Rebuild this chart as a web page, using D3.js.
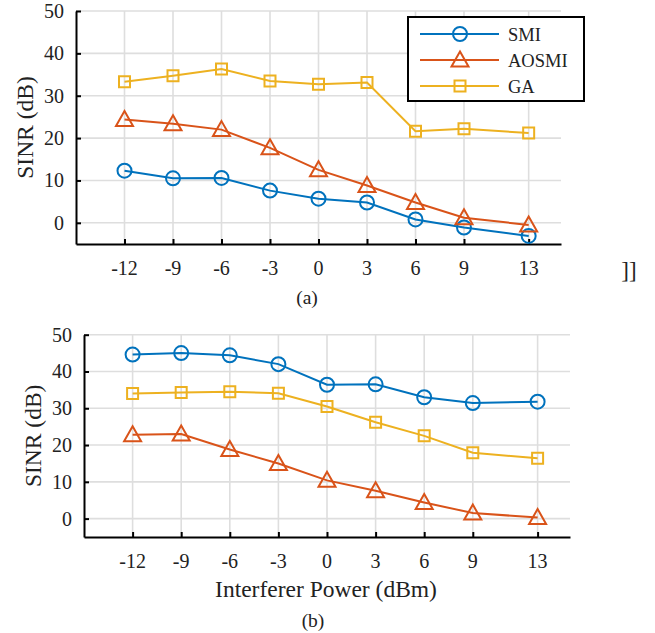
<!DOCTYPE html>
<html>
<head>
<meta charset="utf-8">
<script src="https://cdn.jsdelivr.net/npm/d3@7"></script>
<style>
  body { margin: 0; background: #fff; }
  svg text { font-family: "Liberation Serif", "Times New Roman", serif; fill: #222; }
</style>
</head>
<body>
<div class="container"></div>
<script>
// x values (interferer power, dBm) and tick labels
const powers = [-12, -9, -6, -3, 0, 3, 6, 9, 13];
const yTicks = [0, 10, 20, 30, 40, 50];
const seriesNames = ['SMI', 'AOSMI', 'GA'];

// panel (a)
const smiA   = [12.3, 10.5, 10.6, 7.6, 5.7, 4.8, 0.8, -1.1, -3.1];
const aosmiA = [24.4, 23.4, 22.0, 17.7, 12.5, 8.8, 4.8, 1.2, -0.5];
const gaA    = [33.3, 34.7, 36.3, 33.5, 32.7, 33.1, 21.6, 22.2, 21.2];

// panel (b)
const smiB   = [44.6, 45.0, 44.4, 42.0, 36.4, 36.5, 33.0, 31.4, 31.8];
const aosmiB = [22.8, 23.0, 18.8, 15.0, 10.4, 7.6, 4.4, 1.5, 0.3];
const gaB    = [34.0, 34.3, 34.5, 34.1, 30.5, 26.2, 22.5, 17.9, 16.4];

const colors = ['#0072BD', '#D95319', '#EDB120'];
const markers = ['circle', 'triangle', 'square'];

const svg = d3.select('.container')
  .append('svg')
  .attr('width', 655)
  .attr('height', 633);

function markerPath(type, cx, cy) {
  const p = d3.path();
  if (type === 'circle') {
    p.moveTo(cx + 7, cy);
    p.arc(cx, cy, 7, 0, Math.PI * 2);
  } else if (type === 'triangle') {
    p.moveTo(cx, cy - 8.5);
    p.lineTo(cx + 8.5, cy + 6.5);
    p.lineTo(cx - 8.5, cy + 6.5);
    p.closePath();
  } else {
    p.rect(cx - 5.5, cy - 5.5, 11, 11);
  }
  return p.toString();
}

function drawPanel(opts) {
  const x = d3.scaleLinear().domain([-15, 15]).range([opts.x0, opts.x1]);
  const y = d3.scaleLinear().domain([-5, 50]).range([opts.y1, opts.y0]);
  const g = svg.append('g');

  // grid
  g.selectAll('.hgrid').data(yTicks).join('line')
    .attr('x1', x(-15)).attr('x2', x(15))
    .attr('y1', d => y(d)).attr('y2', d => y(d))
    .attr('stroke', '#dedede').attr('stroke-width', 1.6);
  g.selectAll('.vgrid').data(powers).join('line')
    .attr('x1', d => x(d)).attr('x2', d => x(d))
    .attr('y1', y(50)).attr('y2', y(-5))
    .attr('stroke', '#dedede').attr('stroke-width', 1.6);

  // axes (inward ticks)
  const xAxis = d3.axisTop(x).tickValues(powers).tickSize(5).tickSizeOuter(0).tickFormat('');
  const yAxis = d3.axisRight(y).tickValues(yTicks).tickSize(5).tickSizeOuter(0).tickFormat('');
  g.append('g').attr('transform', `translate(0,${y(-5)})`).call(xAxis)
    .call(a => a.selectAll('line,path').attr('stroke', '#000').attr('stroke-width', 2));
  g.append('g').attr('transform', `translate(${x(-15)},0)`).call(yAxis)
    .call(a => a.selectAll('line,path').attr('stroke', '#000').attr('stroke-width', 2));

  // tick labels
  g.selectAll('.xl').data(powers).join('text')
    .attr('x', d => x(d)).attr('y', y(-5) + 31)
    .attr('text-anchor', 'middle').attr('font-size', 20)
    .text(d => d);
  g.selectAll('.yl').data(yTicks).join('text')
    .attr('x', x(-15) - 12).attr('y', d => y(d) + 7)
    .attr('text-anchor', 'end').attr('font-size', 20)
    .text(d => d);

  // y label
  g.append('text')
    .attr('transform', `translate(${opts.labelX},${(y(50) + y(-5)) / 2}) rotate(-90)`)
    .attr('text-anchor', 'middle').attr('font-size', 23.5)
    .text('SINR (dB)');

  // series
  const line = d3.line().x((d, i) => x(powers[i])).y(d => y(d));
  opts.series.forEach((vals, k) => {
    g.append('path').attr('d', line(vals))
      .attr('fill', 'none').attr('stroke', colors[k]).attr('stroke-width', 2);
    g.selectAll('.m' + k).data(vals).join('path')
      .attr('d', (d, i) => markerPath(markers[k], x(powers[i]), y(d)))
      .attr('fill', 'none').attr('stroke', colors[k]).attr('stroke-width', 2);
  });
  return { x, y, g };
}

const a = drawPanel({ x0: 76, x1: 561, y0: 11, y1: 244, labelX: 33, series: [smiA, aosmiA, gaA] });
const b = drawPanel({ x0: 84, x1: 570, y0: 334.7, y1: 537, labelX: 41, series: [smiB, aosmiB, gaB] });

// legend in panel (a)
const leg = svg.append('g').attr('transform', 'translate(408,17)');
leg.append('rect').attr('width', 176).attr('height', 84)
  .attr('fill', '#fff').attr('stroke', '#000').attr('stroke-width', 2);
seriesNames.forEach((name, k) => {
  const ly = 17 + k * 26;
  leg.append('line').attr('x1', 12).attr('x2', 91).attr('y1', ly).attr('y2', ly)
    .attr('stroke', colors[k]).attr('stroke-width', 2);
  leg.append('path').attr('d', markerPath(markers[k], 52, ly))
    .attr('fill', 'none').attr('stroke', colors[k]).attr('stroke-width', 2);
  leg.append('text').attr('x', 100).attr('y', ly + 6.5).attr('font-size', 18.5).text(name);
});

// captions
svg.append('text').attr('x', 307).attr('y', 304).attr('text-anchor', 'middle')
  .attr('font-size', 19.5).text('(a)');
svg.append('text').attr('x', 629).attr('y', 278).attr('text-anchor', 'middle')
  .attr('font-size', 23).text(']]');
svg.append('text').attr('x', 326).attr('y', 597).attr('text-anchor', 'middle')
  .attr('font-size', 23.5).text('Interferer Power (dBm)');
svg.append('text').attr('x', 313).attr('y', 627).attr('text-anchor', 'middle')
  .attr('font-size', 19.5).text('(b)');
</script>
</body>
</html>
